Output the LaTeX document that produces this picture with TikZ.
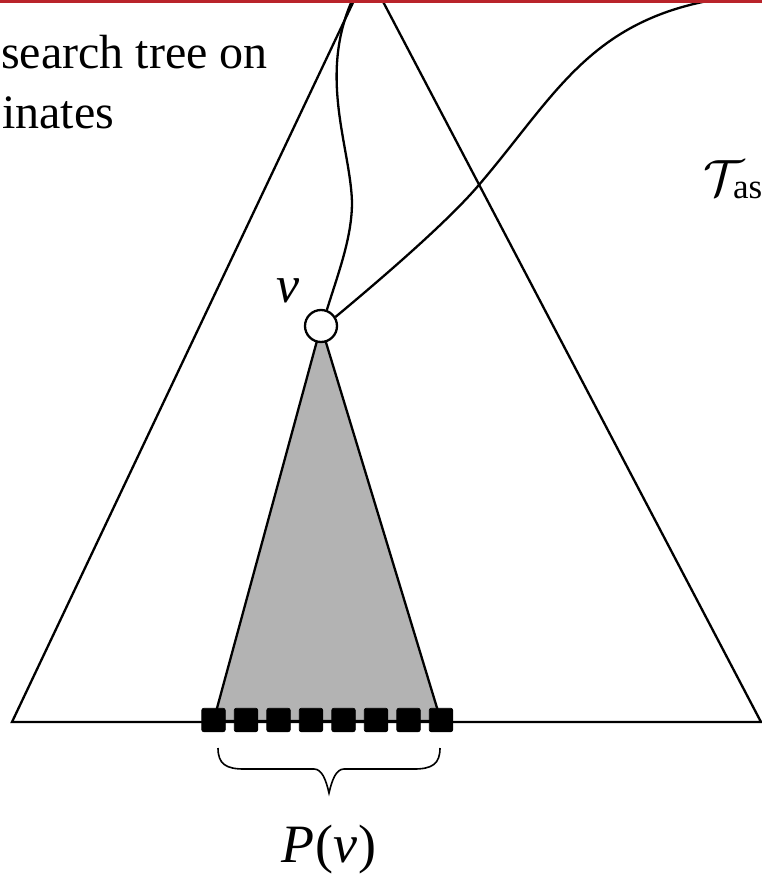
\documentclass[tikz,border=0pt]{standalone}
\usepackage{fontspec}
\setmainfont{Liberation Serif}
\definecolor{barred}{RGB}{185,35,42}
\definecolor{subtree}{RGB}{179,179,179}
\begin{document}
\begin{tikzpicture}[x=1pt,y=-1pt,line width=2.3pt,
  leaf/.style={rectangle,fill=black,draw=black,line width=0.6pt,rounded corners=2pt,minimum size=23.5pt,inner sep=0pt},
  vnode/.style={circle,draw=black,fill=white,line width=2.3pt,minimum size=32pt,inner sep=0pt},
  lbl/.style={font=\fontsize{48}{60}\selectfont,inner sep=0pt},
  treeline/.style={draw=black,line width=2.3pt,line join=miter},
  link/.style={draw=black,line width=2.3pt},
  bracepath/.style={draw=black,line width=1.6pt}]
\clip (0,0) rectangle (762,875);
\fill[white] (0,0) rectangle (762,875);
% big search tree
\coordinate (apex) at (367.5,-28);
\coordinate (bl) at (12,722);
\coordinate (br) at (761,722);
\coordinate (vc) at (321,326);
\coordinate (gl) at (213.5,721);
\coordinate (gr) at (441,721);
\coordinate (bend) at (352,202);
\coordinate (mid) at (478,186);
\coordinate (far) at (800,-7);
% subtree of v
\filldraw[fill=subtree,treeline] (vc) -- (gl) -- (gr) -- cycle;
\draw[treeline] (bl) -- (apex) -- (br) -- cycle;
% leaves P(v)
\foreach \i in {0,...,7}{
  \node[leaf] (s\i) at (213.5+32.5*\i,720) {};
}
% node v
\node[vnode] (v) at (vc) {};
% curves
\draw[link] (v.70) .. controls (339,271) and (352,237) .. (bend)
  .. controls (350,140) and (310,60) .. (apex);
\draw[link] (v.32) .. controls (387,274) and (448,221) .. (mid)
  .. controls (569,80) and (600,-7) .. (far);
% brace
\draw[bracepath] (218,748) .. controls (218,764) and (226,769) .. (244,769) -- (314,769)
  .. controls (322,769) and (326,780) .. (329,793)
  .. controls (332,780) and (336,769) .. (344,769) -- (414,769)
  .. controls (432,769) and (440,764) .. (440,748);
% labels
\node[lbl,anchor=base west] (t1) at (0,68) {search tree on};
\node[lbl,anchor=base west] (t2) at (1,128) {inates};
\node[lbl,font=\fontsize{52}{60}\selectfont] (vl) at (288,291) {\itshape ν};
\node[lbl,font=\fontsize{54}{60}\selectfont,anchor=base] (pv) at (329,862) {\textit{P}\kern1pt(\textit{ν}\kern1pt)};
\node[lbl,anchor=base west] (tas) at (702,195) {\makebox[30pt][l]{\scalebox{5.1}{\normalsize$\mathcal{T}$}}\raisebox{-3pt}{\fontsize{35}{35}\selectfont as}};
% top bar
\fill[barred] (0,0) rectangle (762,3.5);
\end{tikzpicture}
\end{document}
